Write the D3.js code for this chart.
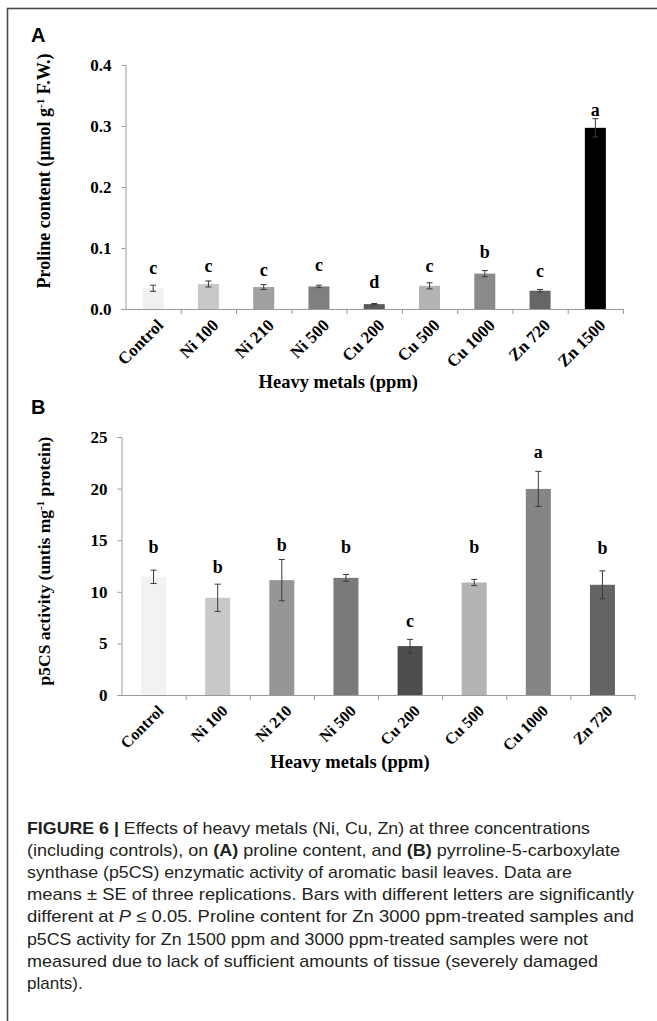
<!DOCTYPE html>
<html>
<head>
<meta charset="utf-8">
<script src="https://cdn.jsdelivr.net/npm/d3@7"></script>
<style>
  body { margin: 0; background: #fff; }
  svg { display: block; }
</style>
</head>
<body>
<svg id="fig" width="657" height="1021"></svg>
<script>
// Panel A: proline content (µmol g-1 F.W.)
const categoriesA = ["Control", "Ni 100", "Ni 210", "Ni 500", "Cu 200", "Cu 500", "Cu 1000", "Zn 720", "Zn 1500"];
const prolineMean = [0.034, 0.041, 0.036, 0.037, 0.008, 0.038, 0.058, 0.030, 0.297];
const prolineSE = [0.005, 0.005, 0.004, 0.002, 0.001, 0.005, 0.005, 0.002, 0.015];
const prolineLetters = ["c", "c", "c", "c", "d", "c", "b", "c", "a"];
const prolineLetterLevel = [0.057, 0.061, 0.054, 0.062, 0.034, 0.061, 0.084, 0.052, 0.316];
const prolineTicks = [0, 0.1, 0.2, 0.3, 0.4];

// Panel B: p5CS activity (units mg-1 protein)
const categoriesB = ["Control", "Ni 100", "Ni 210", "Ni 500", "Cu 200", "Cu 500", "Cu 1000", "Zn 720"];
const p5csMean = [11.45, 9.42, 11.13, 11.35, 4.74, 10.9, 19.97, 10.68];
const p5csSE = [0.65, 1.32, 2.0, 0.33, 0.65, 0.3, 1.7, 1.35];
const p5csLetters = ["b", "b", "b", "b", "c", "b", "a", "b"];
const p5csLetterLevel = [13.8, 11.8, 14.0, 13.8, 6.6, 13.8, 23.0, 13.7];
const p5csTicks = [0, 5, 10, 15, 20, 25];

// grey shade per treatment
const shadesA = ["#f0f0f0", "#c8c8c8", "#a0a0a0", "#7f7f7f", "#595959", "#b4b4b4", "#8a8a8a", "#666666", "#000000"];
const shadesB = ["#f2f2f2", "#c8c8c8", "#969696", "#7a7a7a", "#4d4d4d", "#b4b4b4", "#858585", "#646464"];

const serif = "'Liberation Serif', 'Times New Roman', serif";
const sans = "'Liberation Sans', Arial, sans-serif";
const svg = d3.select("#fig");

// outer frame (runs off the right and bottom edges)
svg.append("rect")
  .attr("x", 7.5).attr("y", 8.5)
  .attr("width", 700).attr("height", 1100)
  .attr("fill", "none").attr("stroke", "#4a4a4a").attr("stroke-width", 1.6);

function drawPanel(cfg) {
  const g = svg.append("g");
  const n = cfg.cats.length;
  const x = d3.scaleBand().domain(cfg.cats).range([cfg.x0, cfg.x1]).padding(0);
  const edge = d3.scaleLinear().domain([0, n]).range([cfg.x0, cfg.x1]);
  const y = d3.scaleLinear().domain([0, cfg.ticks[cfg.ticks.length - 1]]).range([cfg.yBottom, cfg.yTop]);
  const bw = x.step() * cfg.barFrac;
  const cx = c => x(c) + x.step() / 2;

  // bars
  g.selectAll("rect.bar").data(cfg.cats).join("rect")
    .attr("class", "bar")
    .attr("x", c => cx(c) - bw / 2)
    .attr("width", bw)
    .attr("y", (c, i) => y(cfg.mean[i]))
    .attr("height", (c, i) => y(0) - y(cfg.mean[i]))
    .attr("fill", (c, i) => cfg.shades[i]);

  // error bars
  const eb = g.selectAll("g.err").data(cfg.cats).join("g").attr("class", "err")
    .attr("stroke", "#3a3a3a").attr("stroke-width", 1);
  eb.append("line")
    .attr("x1", c => cx(c)).attr("x2", c => cx(c))
    .attr("y1", (c, i) => y(cfg.mean[i] - cfg.se[i]))
    .attr("y2", (c, i) => y(cfg.mean[i] + cfg.se[i]));
  [-1, 1].forEach(s => {
    eb.append("line")
      .attr("x1", c => cx(c) - 3).attr("x2", c => cx(c) + 3)
      .attr("y1", (c, i) => y(cfg.mean[i] + s * cfg.se[i]))
      .attr("y2", (c, i) => y(cfg.mean[i] + s * cfg.se[i]));
  });

  // significance letters
  g.selectAll("text.sig").data(cfg.cats).join("text")
    .attr("class", "sig")
    .attr("x", c => cx(c))
    .attr("y", (c, i) => y(cfg.letterLevel[i]))
    .attr("text-anchor", "middle")
    .attr("font-family", serif).attr("font-weight", "bold").attr("font-size", 18)
    .text((c, i) => cfg.letters[i]);

  // y axis
  const ya = g.append("g").attr("transform", `translate(${cfg.x0},0)`)
    .call(d3.axisLeft(y).tickValues(cfg.ticks).tickSize(4).tickPadding(10).tickFormat(cfg.fmt));
  ya.select(".domain").attr("stroke", "#9a9a9a");
  ya.selectAll(".tick line").attr("stroke", "#9a9a9a");
  ya.selectAll(".tick text")
    .attr("font-family", serif).attr("font-weight", "bold").attr("font-size", 17).attr("fill", "#000");

  // x axis with ticks at category boundaries
  const xa = g.append("g").attr("transform", `translate(0,${cfg.yBottom})`)
    .call(d3.axisBottom(edge).tickValues(d3.range(1, n + 1)).tickSize(5).tickSizeOuter(0).tickFormat(""));
  xa.select(".domain").attr("stroke", "#9a9a9a");
  xa.selectAll(".tick line").attr("stroke", "#9a9a9a");

  // rotated category labels
  g.selectAll("text.cat").data(cfg.cats).join("text")
    .attr("class", "cat")
    .attr("transform", c => `translate(${cx(c) + 7},${cfg.yBottom + 13}) rotate(-45)`)
    .attr("text-anchor", "end")
    .attr("dy", "0.35em")
    .attr("font-family", serif).attr("font-weight", "bold").attr("font-size", cfg.catSize)
    .text(c => c);

  // axis titles
  g.append("text")
    .attr("x", (cfg.x0 + cfg.x1) / 2 + cfg.xTitleShift).attr("y", cfg.xTitleY)
    .attr("text-anchor", "middle")
    .attr("font-family", serif).attr("font-weight", "bold").attr("font-size", 18.5)
    .text("Heavy metals (ppm)");

  const yt = g.append("text")
    .attr("transform", `translate(50,${cfg.yTitleMid}) rotate(-90)`)
    .attr("text-anchor", "middle")
    .attr("font-family", serif).attr("font-weight", "bold").attr("font-size", cfg.yTitleSize);
  cfg.yTitle.forEach(part => {
    const t = yt.append("tspan").text(part.t);
    if (part.sup) t.attr("font-size", cfg.yTitleSize * 0.62).attr("baseline-shift", "super");
  });

  // panel letter
  svg.append("text")
    .attr("x", cfg.tagX).attr("y", cfg.tagY)
    .attr("font-family", sans).attr("font-weight", "bold").attr("font-size", 20)
    .text(cfg.tag);
}

drawPanel({
  cats: categoriesA, mean: prolineMean, se: prolineSE,
  letters: prolineLetters, letterLevel: prolineLetterLevel,
  ticks: prolineTicks, fmt: d3.format(".1f"), shades: shadesA,
  x0: 125.5, x1: 623, yTop: 65, yBottom: 309, barFrac: 0.38,
  catSize: 17, xTitleY: 388, xTitleShift: -36,
  yTitle: [{ t: "Proline content  (µmol g" }, { t: "-1", sup: true }, { t: " F.W.)" }],
  yTitleMid: 171, yTitleSize: 18,
  tag: "A", tagX: 31, tagY: 42
});

drawPanel({
  cats: categoriesB, mean: p5csMean, se: p5csSE,
  letters: p5csLetters, letterLevel: p5csLetterLevel,
  ticks: p5csTicks, fmt: d3.format("d"), shades: shadesB,
  x0: 121.5, x1: 634.5, yTop: 437, yBottom: 695, barFrac: 0.39,
  catSize: 16, xTitleY: 768, xTitleShift: -28,
  yTitle: [{ t: "p5CS activity (untis mg" }, { t: "-1", sup: true }, { t: " protein)" }],
  yTitleMid: 561, yTitleSize: 17.5,
  tag: "B", tagX: 31, tagY: 414
});

// caption
const captionLines = [
  [{ t: "FIGURE 6 | ", b: true }, { t: "Effects of heavy metals (Ni, Cu, Zn) at three concentrations" }],
  [{ t: "(including controls), on " }, { t: "(A)", b: true }, { t: " proline content, and " }, { t: "(B)", b: true }, { t: " pyrroline-5-carboxylate" }],
  [{ t: "synthase (p5CS) enzymatic activity of aromatic basil leaves. Data are" }],
  [{ t: "means \u00B1 SE of three replications. Bars with different letters are significantly" }],
  [{ t: "different at " }, { t: "P", i: true }, { t: " \u2264 0.05. Proline content for Zn 3000 ppm-treated samples and" }],
  [{ t: "p5CS activity for Zn 1500 ppm and 3000 ppm-treated samples were not" }],
  [{ t: "measured due to lack of sufficient amounts of tissue (severely damaged" }],
  [{ t: "plants)." }]
];
const captionEnds = [590, 620, 572, 634, 634, 588, 598, null];
const cap = svg.append("g")
  .attr("font-family", sans).attr("font-size", 17).attr("fill", "#231f20");
captionLines.forEach((line, k) => {
  const t = cap.append("text")
    .attr("x", 27).attr("y", 834 + k * 22.1);
  if (captionEnds[k] !== null) {
    t.attr("textLength", captionEnds[k] - 27).attr("lengthAdjust", "spacingAndGlyphs");
  }
  line.forEach(p => {
    const s = t.append("tspan").text(p.t);
    if (p.b) s.attr("font-weight", "bold");
    if (p.i) s.attr("font-style", "italic");
  });
});
</script>
</body>
</html>
